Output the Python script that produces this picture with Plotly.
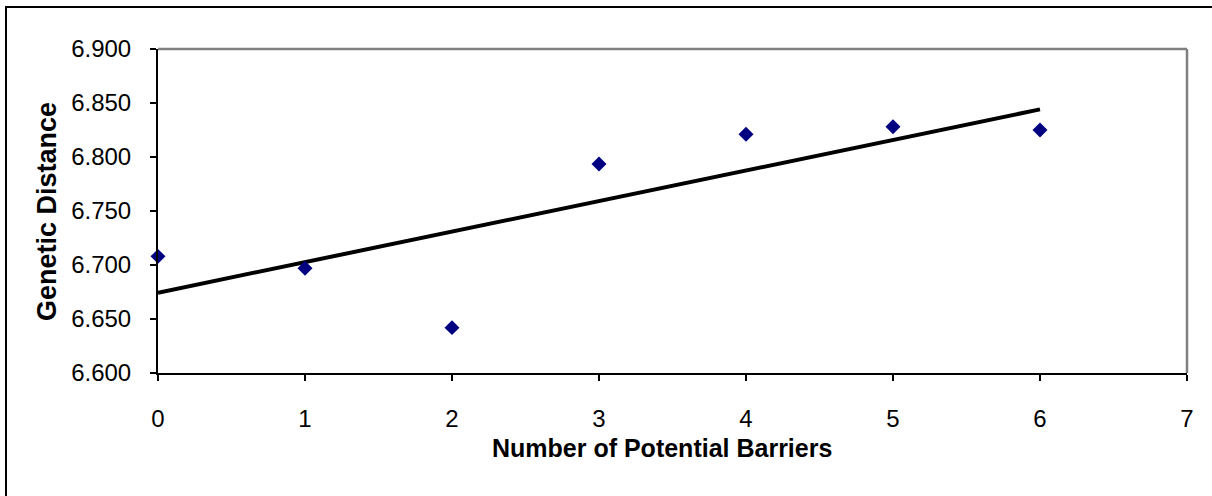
import numpy as np
import plotly.graph_objects as go

barriers = [0, 1, 2, 3, 4, 5, 6]
genetic_distance = [6.708, 6.697, 6.642, 6.7935, 6.821, 6.828, 6.825]
x_ticks = [0, 1, 2, 3, 4, 5, 6, 7]
y_ticks = [6.600, 6.650, 6.700, 6.750, 6.800, 6.850, 6.900]
x_title = "Number of Potential Barriers"
y_title = "Genetic Distance"

slope, intercept = np.polyfit(barriers, genetic_distance, 1)
trend_x = [barriers[0], barriers[-1]]
trend_y = [intercept + slope * v for v in trend_x]

W, H = 1212, 496
L, R, T, B = 158, 25, 49, 123
pw, ph = W - L - R, H - T - B


def px_x(p):
    return (p - L) / pw


def px_y(p):
    return (H - B - p) / ph


fig = go.Figure()
fig.add_trace(go.Scatter(x=trend_x, y=trend_y, mode="lines",
                         line=dict(color="black", width=4), hoverinfo="skip",
                         showlegend=False, cliponaxis=False))
fig.add_trace(go.Scatter(x=barriers, y=genetic_distance, mode="markers",
                         marker=dict(symbol="diamond", size=11.5, color="#000080",
                                     line=dict(width=0)),
                         showlegend=False, cliponaxis=False))

font = "Liberation Sans, Arial, sans-serif"
fig.update_layout(
    width=W, height=H,
    margin=dict(l=L, r=R, t=T, b=B),
    paper_bgcolor="white", plot_bgcolor="white",
    font=dict(family=font, size=24, color="black"),
    xaxis=dict(range=[0, 7], tickvals=x_ticks, ticktext=[str(v) for v in x_ticks],
               showgrid=False, zeroline=False, showline=True, linecolor="black",
               linewidth=2, ticks="outside", ticklen=6, tickwidth=1.5, tickcolor="black",
               tickfont=dict(size=24), ticklabelstandoff=17),
    yaxis=dict(range=[6.6, 6.9], tickvals=y_ticks, ticktext=[f"{v:.3f}" for v in y_ticks],
               showgrid=False, zeroline=False, showline=True, linecolor="black",
               linewidth=2, ticks="outside", ticklen=6, tickwidth=1.5, tickcolor="black",
               tickfont=dict(size=24), ticklabelstandoff=14),
    annotations=[
        dict(text=f"<b>{x_title}</b>", xref="paper", yref="paper",
             x=0.49, y=px_y(448), xanchor="center", yanchor="middle",
             showarrow=False, font=dict(size=25)),
        dict(text=f"<b>{y_title}</b>", xref="paper", yref="paper",
             x=px_x(47), y=px_y(212), xanchor="center", yanchor="middle",
             textangle=-90, showarrow=False, font=dict(size=27)),
    ],
    shapes=[
        dict(type="line", xref="paper", yref="paper", x0=0, x1=1, y0=1, y1=1,
             line=dict(color="#808080", width=2.5)),
        dict(type="line", xref="paper", yref="paper", x0=1, x1=1, y0=0, y1=1,
             line=dict(color="#808080", width=2.5)),
        dict(type="rect", xref="paper", yref="paper",
             x0=px_x(6), x1=px_x(W + 20), y0=px_y(H + 20), y1=px_y(7),
             line=dict(color="black", width=2), fillcolor="rgba(0,0,0,0)"),
    ],
)

fig.write_html("out.html", config={"displayModeBar": False},
               post_script="document.body.style.margin='0';document.body.style.overflow='hidden';")
